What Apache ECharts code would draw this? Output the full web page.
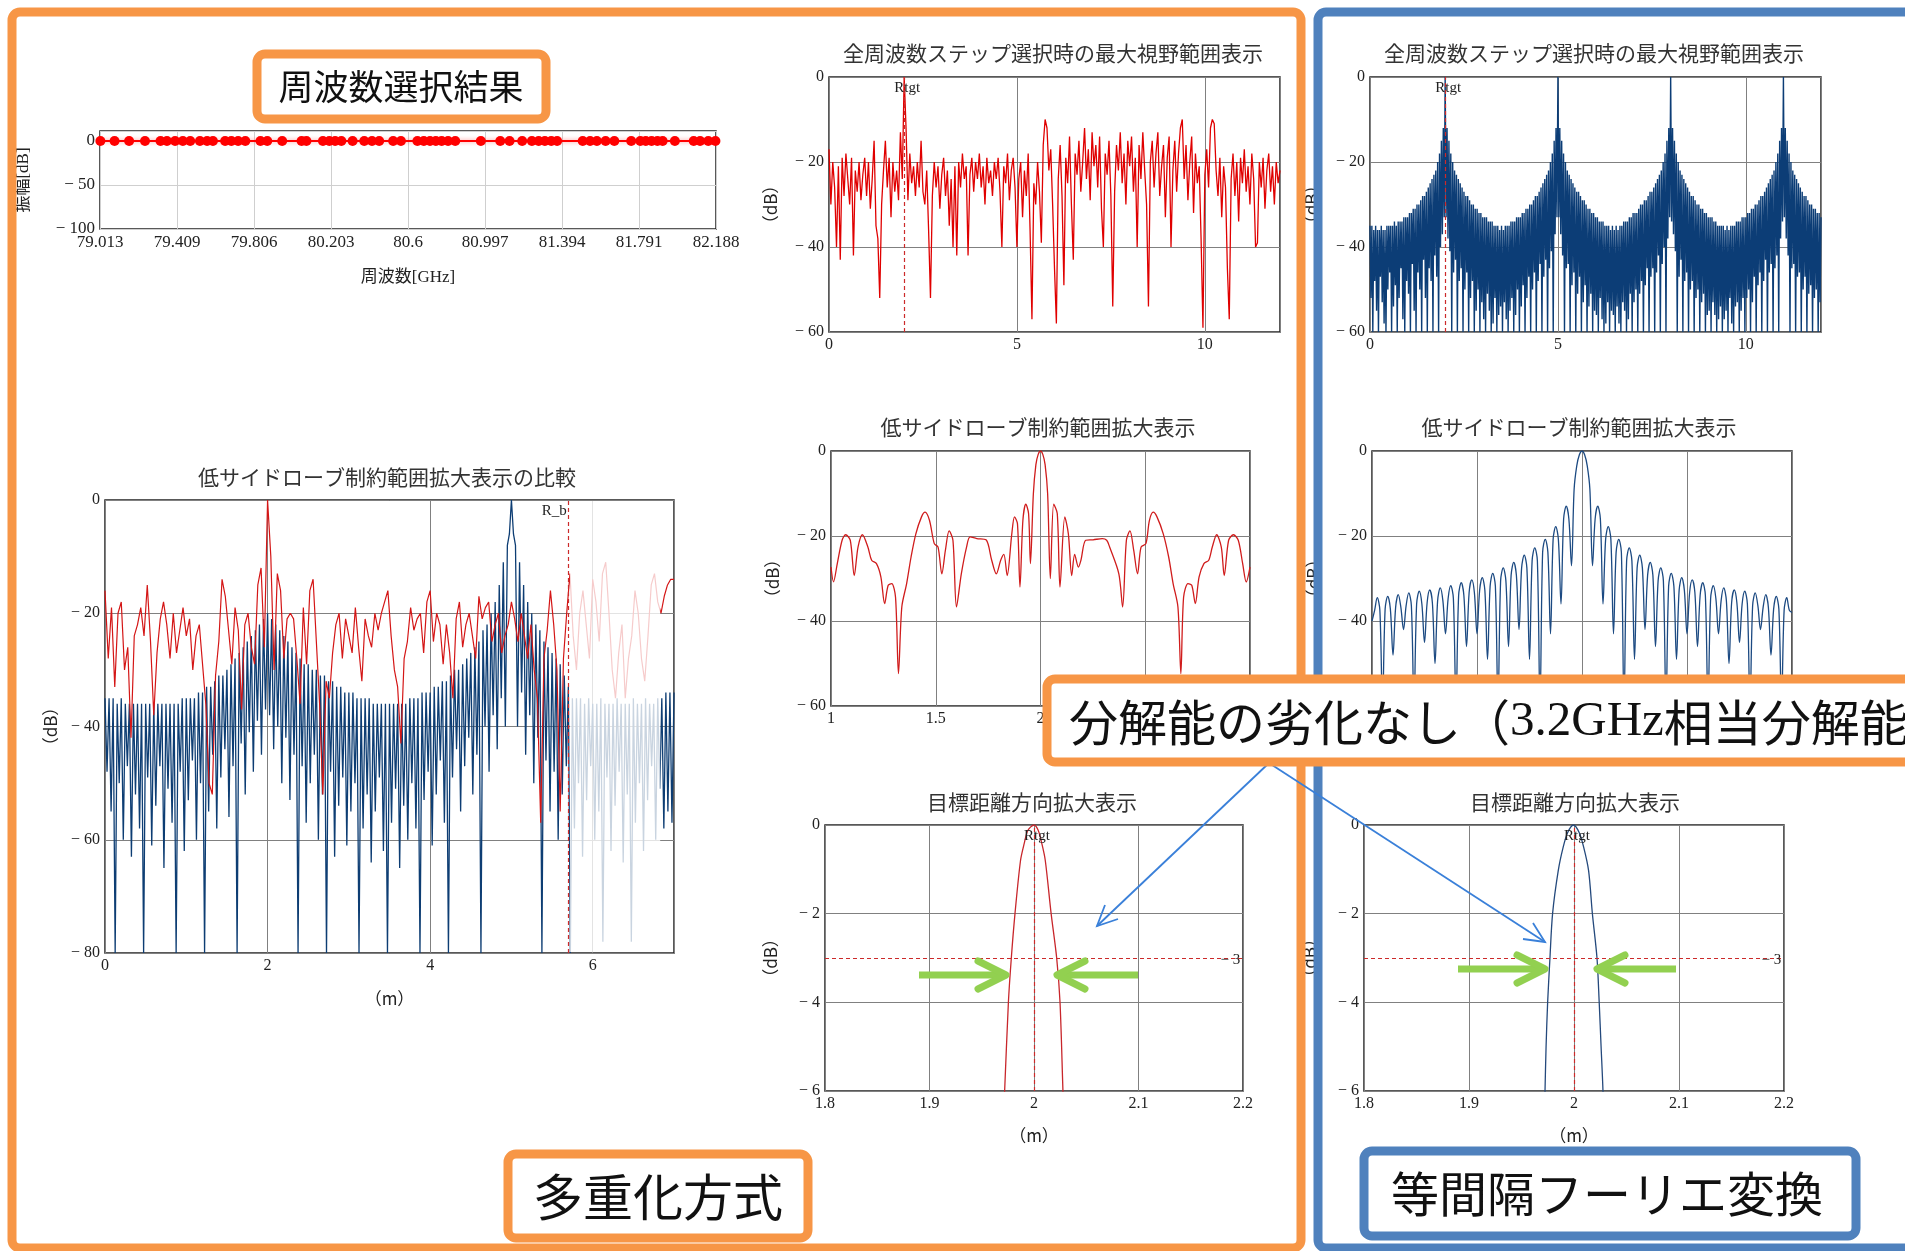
<!DOCTYPE html>
<html>
<head>
<meta charset="utf-8">
<title>周波数選択結果</title>
<script src="https://cdn.jsdelivr.net/npm/echarts@6/dist/echarts.min.js"></script>
<style>
html, body { margin: 0; padding: 0; background: #fff; }
#main { width: 1905px; height: 1251px; }
</style>
</head>
<body>
<div id="main"></div>
<script>
// ---------- values ----------

// 周波数選択結果 : tick labels and selected frequency steps (GHz), all at 0 dB
var freqTicks = ['79.013', '79.409', '79.806', '80.203', '80.6', '80.997', '81.394', '81.791', '82.188'];
var ampTicks = [0, -50, -100];
var selFreqs = [79.015, 79.088, 79.163, 79.245, 79.325, 79.358, 79.400, 79.440, 79.478, 79.528,
    79.565, 79.595, 79.658, 79.690, 79.725, 79.762, 79.840, 79.875, 79.952, 80.052,
    80.077, 80.162, 80.195, 80.225, 80.257, 80.315, 80.375, 80.415, 80.452, 80.524,
    80.564, 80.649, 80.682, 80.714, 80.744, 80.774, 80.807, 80.844, 80.976, 81.076,
    81.124, 81.189, 81.239, 81.274, 81.306, 81.339, 81.369, 81.501, 81.539, 81.574,
    81.619, 81.664, 81.751, 81.798, 81.826, 81.856, 81.886, 81.913, 81.976, 82.073,
    82.106, 82.148, 82.185];

// shared tick lists
var fullTicks = [0, 5, 10];
var bigTicks = [0, 2, 4, 6];
var midTicks = [1, 1.5, 2, 2.5, 3];
var zoomTicks = [1.8, 1.9, 2, 2.1, 2.2];
var db60Ticks = [0, -20, -40, -60];
var db80Ticks = [0, -20, -40, -60, -80];
var db6Ticks = [0, -2, -4, -6];
var rTarget = 2;      // Rtgt
var rBound = 5.7;     // R_b
var halfPower = -3;

// 全周波数ステップ選択時 (多重化方式): red trace, samples every 0.05 m from 0 m
var topStep = 0.05;
var topRedDb = [
    -17, -30, -20, -26, -40, -21, -43, -19, -28, -18,
    -24, -30, -19, -42, -22, -27, -20, -29, -23, -19,
    -28, -20, -31, -24, -15, -35, -38, -52, -30, -22,
    -15, -26, -19, -33, -20, -27, -22, -29, -13, -24,
    0, -12, -29, -18, -25, -21, -28, -20, -26, -15,
    -27, -30, -22, -36, -52, -28, -20, -26, -21, -31,
    -23, -19, -28, -22, -35, -24, -40, -21, -42, -20,
    -26, -18, -24, -21, -42, -23, -19, -27, -20, -24,
    -18, -26, -21, -30, -19, -25, -22, -28, -20, -24,
    -19, -27, -40, -21, -25, -18, -29, -22, -19, -26,
    -40, -24, -20, -33, -22, -28, -18, -36, -57, -25,
    -30, -20, -27, -39, -16, -10, -12, -22, -17, -30,
    -45, -58, -24, -16, -28, -49, -19, -25, -14, -30,
    -43, -18, -23, -15, -27, -20, -12, -24, -17, -29,
    -13, -21, -16, -26, -14, -31, -40, -18, -23, -15,
    -28, -54, -27, -16, -22, -13, -25, -18, -30, -15,
    -21, -14, -27, -19, -40, -16, -24, -13, -22, -30,
    -54, -20, -15, -26, -18, -13, -28, -21, -16, -33,
    -19, -14, -40, -22, -15, -27, -18, -12, -10, -24,
    -16, -29, -20, -14, -32, -18, -25, -21, -38, -59,
    -23, -17, -26, -12, -10, -11, -22, -28, -19, -33,
    -21, -26, -45, -57, -24, -18, -28, -20, -34, -19,
    -25, -17, -27, -21, -30, -18, -24, -40, -39, -20,
    -26, -19, -31, -22, -18, -27, -21, -30, -20, -25,
    -22];

// 全周波数ステップ選択時 (等間隔フーリエ変換): lobe tops every 0.05 m, nulls between them
var topBlueTop = [
    -35, -35, -36, -35, -36, -36, -35, -36, -36, -35,
    -35, -35, -35, -34, -35, -34, -34, -34, -33, -33,
    -33, -32, -32, -31, -31, -30, -30, -29, -28, -28,
    -27, -26, -25, -24, -23, -22, -20, -18, -15, -12,
    0,
    -12, -15, -18, -20, -22, -23, -24, -25, -26, -27,
    -28, -28, -29, -30, -30, -31, -31, -32, -32, -33,
    -33, -33, -34, -34, -34, -35, -35, -35, -36, -35,
    -36, -35, -35, -35, -34, -34, -34, -33, -33, -33,
    -32, -32, -31, -31, -30, -30, -29, -28, -28, -27,
    -26, -25, -24, -23, -22, -20, -18, -15, -12,
    0,
    -12, -15, -18, -20, -22, -23, -24, -25, -26, -27,
    -27, -28, -29, -29, -30, -31, -31, -32, -32, -33,
    -33, -34, -34, -34, -35, -35, -35, -36, -35, -36,
    -35, -36, -35, -35, -34, -34, -34, -33, -33, -32,
    -32, -32, -31, -30, -30, -29, -29, -28, -27, -27,
    -26, -25, -24, -23, -22, -20, -18, -15, -12,
    0,
    -12, -15, -18, -20, -22, -23, -24, -25, -26, -27,
    -28, -28, -29, -30, -30, -31, -31, -32, -32, -33,
    -33, -33, -34, -34, -35, -35, -35, -35, -36, -35,
    -36, -35, -35, -35, -34, -34, -34, -33, -33, -33,
    -32, -32, -31, -31, -30, -30, -29, -28, -28, -27,
    -26, -25, -24, -23, -22, -20, -18, -15, -12,
    0,
    -12, -15, -18, -20, -22, -23, -24, -25, -26, -27,
    -28, -28, -29, -30, -30, -31, -31, -32, -32, -33];
var topBlueNull = [
    -52, -60, -48, -55, -60, -47, -53, -58, -60, -50,
    -46, -60, -54, -49, -60, -52, -45, -57, -60, -48,
    -51, -60, -44, -55, -60, -46, -50, -60, -43, -52,
    -60, -45, -48, -60, -42, -47, -60, -40, -37, -33,
    -33, -38, -41, -60, -46, -43, -60, -48, -45, -60,
    -50, -46, -60, -52, -48, -60, -55, -50, -60, -53,
    -57, -60, -51, -55, -60, -58, -52, -60, -56, -54,
    -60, -53, -57, -60, -55, -52, -60, -56, -50, -60,
    -54, -49, -60, -52, -47, -60, -50, -46, -60, -48,
    -44, -60, -47, -43, -60, -45, -41, -60, -37, -33,
    -33, -37, -42, -60, -45, -44, -60, -49, -46, -60,
    -51, -47, -60, -53, -49, -60, -54, -51, -60, -55,
    -56, -60, -52, -57, -60, -58, -53, -60, -55, -56,
    -60, -54, -58, -60, -53, -55, -60, -57, -51, -60,
    -53, -50, -60, -51, -48, -60, -49, -45, -60, -47,
    -45, -60, -46, -42, -60, -44, -40, -60, -38, -33,
    -34, -37, -41, -60, -47, -43, -60, -48, -46, -60,
    -50, -48, -60, -52, -50, -60, -53, -51, -60, -56,
    -55, -60, -53, -56, -60, -57, -54, -60, -57, -55,
    -60, -52, -58, -60, -54, -53, -60, -55, -52, -60,
    -52, -50, -60, -53, -47, -60, -49, -46, -60, -48,
    -43, -60, -46, -44, -60, -45, -42, -60, -38, -34,
    -33, -38, -42, -60, -45, -44, -60, -47, -46, -60,
    -50, -47, -60, -51, -49, -60, -52, -50, -60, -53];

// 低サイドローブ制約範囲拡大表示の比較 : blue tops every 0.05 m, red every 0.04 m
var bigStep = 0.05;
var bigBlueTop = [
    -35, -35, -35, -36, -35, -36, -36, -36, -36, -36,
    -36, -36, -36, -36, -36, -36, -36, -36, -36, -35,
    -35, -35, -35, -34, -34, -33, -33, -32, -31, -31,
    -30, -29, -28, -27, -26, -25, -24, -23, -22, -21,
    -20, -21, -22, -23, -24, -25, -26, -27, -28, -29,
    -29, -30, -30, -31, -31, -32, -32, -33, -33, -34,
    -34, -34, -35, -35, -35, -35, -36, -36, -36, -36,
    -36, -36, -36, -36, -36, -35, -35, -35, -34, -34,
    -34, -33, -33, -32, -32, -31, -30, -30, -29, -28,
    -27, -26, -25, -23, -22, -20, -18, -15, -11, -8,
    0, -8, -11, -15, -18, -20, -22, -23, -25, -26,
    -27, -28, -29, -31, -33, -35, -35, -35, -36, -35,
    -36, -36, -35, -36, -36, -36, -35, -36, -36, -36,
    -35, -36, -36, -35, -36, -36, -35, -35, -34, -34,
    -34];
var bigBlueNull = [
    -48, -55, -80, -50, -60, -47, -63, -52, -58, -80,
    -49, -61, -54, -47, -65, -51, -57, -80, -48, -62,
    -53, -46, -60, -50, -80, -55, -45, -58, -49, -44,
    -56, -47, -80, -43, -52, -41, -48, -39, -45, -37,
    -38, -44, -40, -50, -42, -53, -45, -80, -47, -57,
    -50, -45, -60, -52, -80, -48, -63, -54, -49, -61,
    -55, -50, -80, -58, -52, -64, -55, -49, -62, -80,
    -57, -51, -65, -54, -60, -50, -58, -80, -53, -48,
    -61, -52, -46, -57, -80, -49, -44, -55, -47, -42,
    -52, -45, -80, -40, -48, -38, -44, -35, -40, -6,
    -6, -40, -34, -45, -38, -50, -42, -80, -46, -55,
    -48, -60, -52, -47, -80, -58, -50, -63, -53, -47,
    -60, -55, -78, -49, -62, -54, -48, -64, -52, -78,
    -57, -50, -62, -53, -47, -60, -51, -58, -55, -57];
var bigRedStep = 0.04;
var bigRedDb = [
    -16, -28, -19, -33, -20, -18, -30, -26, -42, -24,
    -22, -19, -24, -15, -25, -38, -27, -21, -18, -22,
    -28, -20, -27, -23, -19, -24, -21, -30, -24, -22,
    -29, -36, -50, -52, -31, -25, -14, -17, -23, -29,
    -19, -23, -37, -22, -20, -26, -29, -15, -12, -26,
    0, -10, -30, -13, -16, -28, -21, -20, -21, -28,
    -36, -19, -29, -16, -14, -25, -36, -52, -32, -35,
    -27, -22, -20, -28, -21, -24, -27, -19, -26, -32,
    -21, -24, -26, -20, -23, -20, -18, -16, -24, -30,
    -33, -43, -28, -25, -19, -23, -21, -20, -27, -18,
    -16, -25, -20, -22, -29, -22, -27, -35, -21, -18,
    -26, -22, -20, -24, -28, -17, -21, -19, -18, -25,
    -22, -20, -27, -24, -22, -18, -21, -25, -20, -24,
    -28, -22, -30, -35, -57, -28, -23, -16, -22, -30,
    -55, -28, -20, -13, -24, -30, -20, -16, -22, -28,
    -14, -18, -25, -13, -11, -20, -30, -35, -27, -22,
    -35, -28, -24, -16, -20, -28, -32, -24, -15, -13,
    -18, -20, -17, -15, -14, -14];
var fadeFrom = 5.72, fadeTo = 6.83;

// 低サイドローブ制約範囲拡大表示 (多重化方式): [m, dB]
var midRed = [
    [1.000, -27.3], [1.012, -30.8], [1.030, -26.5], [1.053, -21], [1.070, -19.7], [1.092, -21],
    [1.111, -29.3], [1.129, -22.6], [1.150, -19.7], [1.176, -22.6], [1.194, -25.7], [1.217, -26.5],
    [1.238, -29.6], [1.256, -35.9], [1.273, -31.6], [1.290, -31.2], [1.308, -34.4], [1.322, -52.4],
    [1.338, -36.7], [1.361, -31.2], [1.382, -25], [1.405, -19.5], [1.432, -15.5], [1.449, -14.4],
    [1.470, -16.3], [1.493, -21.8], [1.511, -22.6], [1.529, -28.9], [1.546, -23.4], [1.564, -18.8],
    [1.582, -21], [1.599, -36.7], [1.622, -28.9], [1.647, -22.6], [1.664, -20.2], [1.696, -20.6],
    [1.740, -20.9], [1.767, -25.7], [1.789, -28.9], [1.810, -25.7], [1.825, -24.3], [1.841, -29.3],
    [1.863, -19.5], [1.876, -15.5], [1.890, -17.1], [1.902, -32], [1.916, -16.3], [1.930, -12.5],
    [1.943, -14.7], [1.952, -26.5], [1.966, -10], [1.978, -3.2], [1.989, -0.8], [2.000, 0],
    [2.011, -0.8], [2.022, -3.2], [2.034, -10], [2.047, -30], [2.063, -12.5], [2.080, -14.7],
    [2.093, -32], [2.116, -15.5], [2.133, -19.5], [2.149, -29.3], [2.163, -24.3], [2.181, -27.3],
    [2.193, -25.7], [2.216, -21], [2.251, -20.9], [2.295, -20.6], [2.316, -21], [2.330, -22.6],
    [2.374, -28.9], [2.392, -36.7], [2.410, -21], [2.427, -18.8], [2.445, -23.4], [2.463, -28.9],
    [2.480, -22.6], [2.503, -21.8], [2.520, -16.3], [2.538, -14.4], [2.556, -15.5], [2.586, -19.5],
    [2.612, -25], [2.633, -31.2], [2.656, -36.7], [2.670, -52.4], [2.683, -34.4], [2.704, -31.2],
    [2.722, -31.6], [2.739, -35.9], [2.757, -29.6], [2.780, -26.5], [2.803, -25.7], [2.820, -22.6],
    [2.841, -19.7], [2.863, -22.6], [2.877, -29.3], [2.898, -21], [2.921, -19.7], [2.944, -21],
    [2.965, -26.5], [2.982, -30.8], [3.000, -27.3]];

// 低サイドローブ制約範囲拡大表示 (等間隔フーリエ変換): samples every 0.0125 m from 1 m
// each lobe read as null, shoulder, top, shoulder
var midBlueStep = 0.0125;
var midBlueDb = [
    -40, -37.5, -34.5, -37.5,   -60, -37.2, -34.2, -37.2,   -48, -36.8, -33.8, -36.8,
    -42, -36.4, -33.4, -36.4,   -60, -36, -33, -36,         -45, -35.7, -32.7, -35.7,
    -50, -35.2, -32.2, -35.2,   -43, -34.7, -31.7, -34.7,   -60, -34, -31, -34,
    -46, -33.3, -30.3, -33.3,   -43, -32.8, -29.8, -32.8,   -49, -31.8, -28.8, -31.8,
    -60, -30.5, -27.5, -30.5,   -46, -29.2, -26.2, -29.2,   -42, -27.5, -24.5, -27.5,
    -49, -25.8, -22.8, -25.8,   -60, -23.8, -20.8, -23.8,   -43, -20.8, -17.8, -20.8,
    -36, -16, -13, -16,         -27, -9, -3.5, -0.9,
    0,
    -0.9, -3.5, -9, -27,        -16, -13, -16, -36,         -20.8, -17.8, -20.8, -43,
    -23.8, -20.8, -23.8, -60,   -25.8, -22.8, -25.8, -49,   -27.5, -24.5, -27.5, -42,
    -29.2, -26.2, -29.2, -46,   -30.5, -27.5, -30.5, -60,   -31.8, -28.8, -31.8, -49,
    -32.8, -29.8, -32.8, -43,   -33.3, -30.3, -33.3, -46,   -34, -31, -34, -60,
    -34.7, -31.7, -34.7, -43,   -35.2, -32.2, -35.2, -50,   -35.7, -32.7, -35.7, -45,
    -36, -33, -36, -60,         -36.4, -33.4, -36.4, -42,   -36.8, -33.8, -36.8, -48,
    -37.2, -34.2, -37.2, -60,   -37.5, -34.5, -37.5, -38];

// 目標距離方向拡大表示 : main lobe [m, dB]
var zoomRed = [
    [1.9700, -7], [1.9719, -6], [1.9755, -4], [1.9783, -3], [1.9818, -2], [1.9871, -0.8],
    [1.9906, -0.42], [1.9942, -0.12], [2.0, 0], [2.0040, -0.12], [2.0075, -0.42], [2.0108, -0.8],
    [2.0164, -2], [2.0217, -3], [2.0249, -4], [2.0277, -6], [2.0292, -7]];
var zoomBlue = [
    [1.9715, -7], [1.9724, -6], [1.9734, -5], [1.9749, -4], [1.9771, -3], [1.9796, -2],
    [1.9850, -1.03], [1.9897, -0.5], [1.9940, -0.17], [1.9995, 0], [2.0049, -0.17], [2.0092, -0.5],
    [2.0139, -1.03], [2.0175, -2], [2.0219, -3], [2.0240, -4], [2.0258, -5], [2.0276, -6], [2.0285, -7]];

// ---------- helpers ----------
var serif = "'Liberation Serif', 'Noto Sans CJK JP', serif";
var jp = "'Noto Sans CJK JP', sans-serif";
var orange = '#f79646', frameBlue = '#4f81bd', green = '#92d050', pointer = '#3a80d9';
var red = '#e00000', navy = '#0c3d76', dashRed = '#cc2a2a';

function minus(v) {
    return v < 0 ? '\u2212 ' + Math.abs(v) : String(v);
}
function only(list) {
    return function (v) {
        for (var i = 0; i < list.length; i++) {
            if (Math.abs(list[i] - v) < 1e-6) return minus(list[i]);
        }
        return '';
    };
}
function onGrid(vals, x0, step) {
    return vals.map(function (v, i) { return [x0 + i * step, v]; });
}
function zigzag(tops, nulls, x0, step) {
    var pts = [];
    for (var i = 0; i < tops.length; i++) {
        pts.push([x0 + i * step, tops[i]]);
        if (i < nulls.length) pts.push([x0 + i * step + step / 2, nulls[i]]);
    }
    return pts;
}
var freqSpan = (82.188 - 79.013) / (freqTicks.length - 1);
function freqToIdx(f) {
    return (f - 79.013) / freqSpan;
}

function grid(l, t, w, h) {
    return {left: l, top: t, width: w, height: h, show: true, borderColor: '#222', borderWidth: 1.5,
        backgroundColor: 'rgba(0,0,0,0)', containLabel: false, outerBoundsMode: 'none'};
}
function axis(g, min, max, interval, fmt, opts) {
    opts = opts || {};
    return {
        type: 'value', gridIndex: g, min: min, max: max, interval: interval,
        axisLine: {show: false}, axisTick: {show: false},
        splitLine: {show: true, lineStyle: {color: opts.gridColor || '#808080', width: 1}},
        axisLabel: {formatter: fmt, fontFamily: serif, fontSize: opts.labelSize || 16, color: '#222', margin: 5},
        name: opts.name || '', nameLocation: 'middle', nameGap: opts.gap || 40, nameRotate: opts.rotate || 0,
        nameTextStyle: {fontFamily: opts.nameFont || jp, fontSize: 17, color: '#222'}
    };
}
function dashes(items) {
    return {silent: true, symbol: ['none', 'none'], animation: false, label: {show: false},
        lineStyle: {color: dashRed, type: [4, 3], width: 1.2}, data: items};
}
function tags(items) {
    return {silent: true, symbol: 'rect', symbolSize: 1, animation: false, itemStyle: {color: 'rgba(0,0,0,0)'},
        label: {show: true, position: 'inside', color: '#222', fontFamily: serif, fontSize: 15},
        data: items.map(function (t) {
            return {coord: t[0], label: {formatter: t[1], offset: t[2]}};
        })};
}
function trace(xi, yi, data, color, width, extra) {
    var s = {type: 'line', xAxisIndex: xi, yAxisIndex: yi, data: data, symbol: 'none', showSymbol: false,
        clip: true, animation: false, silent: true, lineStyle: {color: color, width: width}};
    for (var k in extra) s[k] = extra[k];
    return s;
}

var chart = echarts.init(document.getElementById('main'));

var option = {
    backgroundColor: '#fff',
    animation: false,
    grid: [
        grid(100, 131, 616, 98),
        grid(829, 77, 451, 255),
        grid(1370, 77, 451, 255),
        grid(105, 500, 569, 453),
        grid(831, 451, 419, 255),
        grid(1372, 451, 420, 255),
        grid(825, 825, 418, 266),
        grid(1364, 825, 420, 266)
    ],
    xAxis: [
        axis(0, 0, freqTicks.length - 1, 1, function (v) { return freqTicks[Math.round(v)]; },
            {name: '周波数[GHz]', gap: 40, nameFont: serif, gridColor: '#cfcfcf', labelSize: 17}),
        axis(1, 0, 12, 5, only(fullTicks)),
        axis(2, 0, 12, 5, only(fullTicks)),
        axis(3, 0, 7, 2, only(bigTicks), {name: '（m）', gap: 37}),
        axis(4, 1, 3, 0.5, only(midTicks)),
        axis(5, 1, 3, 0.5, only(midTicks)),
        axis(6, 1.8, 2.2, 0.1, only(zoomTicks), {name: '（m）', gap: 36}),
        axis(7, 1.8, 2.2, 0.1, only(zoomTicks), {name: '（m）', gap: 36})
    ],
    yAxis: [
        axis(0, -100, 11.4, 50, only(ampTicks), {name: '振幅[dB]', gap: 68, rotate: 90, nameFont: serif, gridColor: '#cfcfcf', labelSize: 17}),
        axis(1, -60, 0, 20, only(db60Ticks), {name: '（dB）', gap: 50, rotate: 90}),
        axis(2, -60, 0, 20, only(db60Ticks), {name: '（dB）', gap: 50, rotate: 90}),
        axis(3, -80, 0, 20, only(db80Ticks), {name: '（dB）', gap: 46, rotate: 90}),
        axis(4, -60, 0, 20, only(db60Ticks), {name: '（dB）', gap: 50, rotate: 90}),
        axis(5, -60, 0, 20, only(db60Ticks), {name: '（dB）', gap: 50, rotate: 90}),
        axis(6, -6, 0, 2, only(db6Ticks), {name: '（dB）', gap: 46, rotate: 90}),
        axis(7, -6, 0, 2, only(db6Ticks), {name: '（dB）', gap: 46, rotate: 90})
    ],
    series: [
        // selected frequency steps, all sitting on 0 dB
        {type: 'line', xAxisIndex: 0, yAxisIndex: 0, animation: false, silent: true,
            data: selFreqs.map(function (f) { return [freqToIdx(f), 0]; }),
            symbol: 'circle', symbolSize: 10, itemStyle: {color: '#ff0000'},
            lineStyle: {color: '#ff0000', width: 2, shadowColor: 'rgba(255,0,0,0.45)', shadowBlur: 4}},
        trace(1, 1, onGrid(topRedDb, 0, topStep), red, 1.3, {
            markLine: dashes([{xAxis: rTarget}]),
            markPoint: tags([[[rTarget, 0], 'Rtgt', [3, 11]]])
        }),
        trace(2, 2, zigzag(topBlueTop, topBlueNull, 0, topStep), navy, 1.4, {
            markLine: dashes([{xAxis: rTarget}]),
            markPoint: tags([[[rTarget, 0], 'Rtgt', [3, 11]]])
        }),
        trace(3, 3, zigzag(bigBlueTop, bigBlueNull, 0, bigStep), '#0d3d73', 1.3),
        trace(3, 3, onGrid(bigRedDb, 0, bigRedStep), '#d41616', 1.2, {
            markLine: dashes([{xAxis: rBound}]),
            markPoint: tags([[[rBound, 0], 'R_b', [-14, 11]]])
        }),
        trace(4, 4, midRed, '#d01c1c', 1.3, {smooth: 0.3}),
        trace(5, 5, onGrid(midBlueDb, 1, midBlueStep), '#1c4a82', 1.3, {smooth: 0.35}),
        trace(6, 6, zoomRed, '#c8262b', 1.3, {
            smooth: 0.3,
            markLine: dashes([{xAxis: rTarget}, {yAxis: halfPower}]),
            markPoint: tags([[[rTarget, 0], 'Rtgt', [3, 11]], [[2.188, halfPower], minus(halfPower), [0, 2]]])
        }),
        trace(7, 7, zoomBlue, '#24497c', 1.3, {
            smooth: 0.3,
            markLine: dashes([{xAxis: rTarget}, {yAxis: halfPower}]),
            markPoint: tags([[[rTarget, 0], 'Rtgt', [3, 11]], [[2.188, halfPower], minus(halfPower), [0, 2]]])
        })
    ]
};
chart.setOption(option);

// ---------- annotations ----------
function rect(x, y, w, h, color, fill, z) {
    return {type: 'rect', z: z, silent: true, shape: {x: x, y: y, width: w, height: h, r: 8},
        style: {fill: fill, stroke: color, lineWidth: 9}};
}
function text(str, x, y, size, z, color) {
    return {type: 'text', z: z, silent: true, x: x, y: y,
        style: {text: str, font: size + 'px ' + jp, fill: color || '#333',
            align: 'center', verticalAlign: 'middle', textAlign: 'center', textVerticalAlign: 'middle'}};
}
function greenArrow(x0, y, tip) {
    var d = tip > x0 ? -1 : 1;
    return [
        {type: 'line', z: 60, silent: true, shape: {x1: x0, y1: y, x2: tip + d * 3, y2: y},
            style: {stroke: green, lineWidth: 7}},
        {type: 'polyline', z: 60, silent: true,
            shape: {points: [[tip + d * 28, y - 14], [tip, y], [tip + d * 28, y + 14]]},
            style: {stroke: green, lineWidth: 7, lineCap: 'round', lineJoin: 'round', fill: null}}
    ];
}
function pointerLine(x0, y0, x1, y1, a1, a2) {
    return [
        {type: 'line', z: 120, silent: true, shape: {x1: x0, y1: y0, x2: x1, y2: y1},
            style: {stroke: pointer, lineWidth: 1.8}},
        {type: 'polyline', z: 120, silent: true, shape: {points: [a1, [x1, y1], a2]},
            style: {stroke: pointer, lineWidth: 1.8, fill: null}}
    ];
}

var p0 = chart.convertToPixel({gridIndex: 3}, [fadeFrom, 0]);
var p1 = chart.convertToPixel({gridIndex: 3}, [fadeTo, -80]);

var graphics = [
    // faded tail of the comparison plot
    {type: 'rect', z: 40, silent: true, shape: {x: p0[0], y: p0[1] + 1, width: p1[0] - p0[0], height: p1[1] - p0[1] - 2},
        style: {fill: 'rgba(255,255,255,0.78)'}},

    text('全周波数ステップ選択時の最大視野範囲表示', 1053, 53, 21, 50),
    text('全周波数ステップ選択時の最大視野範囲表示', 1594, 53, 21, 50),
    text('低サイドローブ制約範囲拡大表示の比較', 387, 477, 21, 50),
    text('低サイドローブ制約範囲拡大表示', 1038, 427, 21, 50),
    text('低サイドローブ制約範囲拡大表示', 1579, 427, 21, 50),
    text('目標距離方向拡大表示', 1032, 802, 21, 50),
    text('目標距離方向拡大表示', 1575, 802, 21, 50),

    rect(257, 54, 289, 65, orange, '#fff', 90),
    text('周波数選択結果', 401, 87, 35, 91, '#111'),

    // outer frames
    rect(12, 12, 1289, 1236, orange, null, 100),
    rect(1318, 12, 700, 1236, frameBlue, null, 100),

    // callout
    rect(1047, 679, 900, 83, orange, '#fff', 130),
    {type: 'text', z: 131, silent: true, x: 1069, y: 722,
        style: {text: '{a|分解能の劣化なし（}{b|3.2GHz}{a|相当分解能}',
            verticalAlign: 'middle', textVerticalAlign: 'middle',
            rich: {a: {font: '49px ' + jp, fill: '#111'}, b: {font: '49px ' + serif, fill: '#111'}}}},

    rect(508, 1154, 300, 84, orange, '#fff', 130),
    text('多重化方式', 658, 1197, 50, 131, '#111'),
    rect(1364, 1151, 492, 85, frameBlue, '#fff', 130),
    text('等間隔フーリエ変換', 1607, 1194, 48, 131, '#111')
];
graphics = graphics
    .concat(greenArrow(919, 975, 1006))
    .concat(greenArrow(1138, 975, 1057))
    .concat(greenArrow(1458, 969, 1545))
    .concat(greenArrow(1676, 969, 1597))
    .concat(pointerLine(1269, 763, 1097, 926, [1105, 905], [1118, 919]))
    .concat(pointerLine(1269, 763, 1545, 942, [1533, 923], [1523, 939]));

chart.setOption({graphic: graphics});
</script>
</body>
</html>
